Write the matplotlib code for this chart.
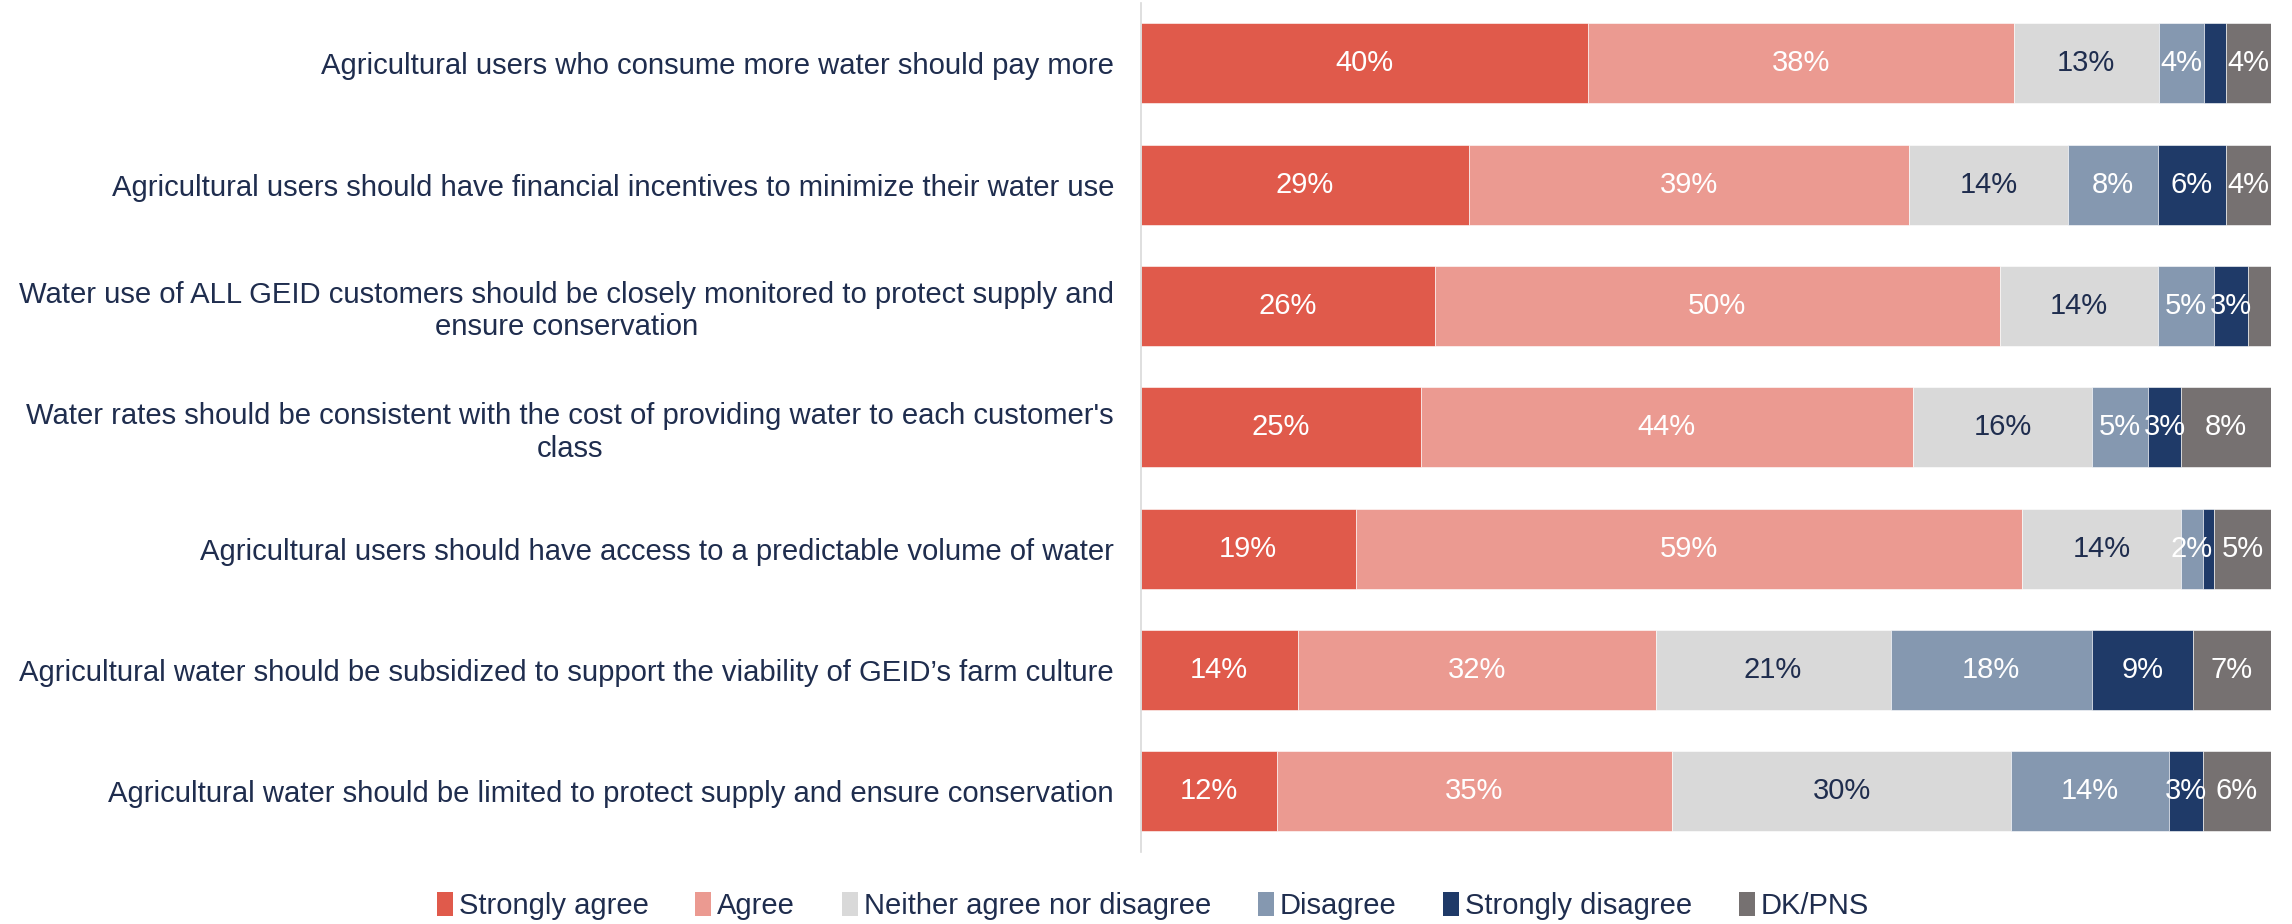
import numpy as np
import matplotlib.pyplot as plt
from matplotlib.patches import Patch

plt.rcParams['font.family'] = ['Liberation Sans', 'DejaVu Sans']

statements = [
    "Agricultural users who consume more water should pay more",
    "Agricultural users should have financial incentives to minimize their water use",
    "Water use of ALL GEID customers should be closely monitored to protect supply and\nensure conservation",
    "Water rates should be consistent with the cost of providing water to each customer's\nclass",
    "Agricultural users should have access to a predictable volume of water",
    "Agricultural water should be subsidized to support the viability of GEID\u2019s farm culture",
    "Agricultural water should be limited to protect supply and ensure conservation",
]
responses = ["Strongly agree", "Agree", "Neither agree nor disagree",
             "Disagree", "Strongly disagree", "DK/PNS"]

strongly_agree = [40, 29, 26, 25, 19, 14, 12]
agree = [38, 39, 50, 44, 59, 32, 35]
neither = [13, 14, 14, 16, 14, 21, 30]
disagree = [4, 8, 5, 5, 2, 18, 14]
strongly_disagree = [2, 6, 3, 3, 1, 9, 3]
dk_pns = [4, 4, 2, 8, 5, 7, 6]

# (row, response) segments too thin to carry a label
unlabeled = [(0, 4), (2, 5), (4, 4)]

colors = ["#E05A4B", "#EB9A91", "#D9D9D9", "#8598B0", "#1F3A68", "#767171"]
navy = "#1F2D4E"
label_colors = ["white", "white", navy, "white", "white", "white"]

data = np.array([strongly_agree, agree, neither, disagree, strongly_disagree, dk_pns], dtype=float)
# 100% stacked: each row scaled to its own total
shares = data / data.sum(axis=0) * 100

fig = plt.figure(figsize=(22.92, 9.24), dpi=100)
ax = fig.add_axes([0.4978, 0.078, 0.4930, 0.919])

y = np.arange(len(statements))
left = np.zeros(len(statements))
for i, name in enumerate(responses):
    bars = ax.barh(y, shares[i], left=left, height=0.66, color=colors[i],
                   edgecolor="white", linewidth=0.4, label=name)
    for r, b in enumerate(bars):
        if (r, i) in unlabeled:
            continue
        ax.text(b.get_x() + b.get_width() / 2, b.get_y() + b.get_height() / 2,
                f"{data[i, r]:.0f}%", ha="center", va="center",
                fontsize=21, color=label_colors[i])
    left += shares[i]

ax.set_xlim(0, 100)
ax.set_ylim(len(statements) - 0.5, -0.5)
ax.set_yticks(y)
ax.set_yticklabels(statements, fontsize=21.1, color=navy)
for t in ax.get_yticklabels():
    t.set_multialignment("center")
ax.tick_params(axis="y", length=0, pad=19.4)
ax.set_xticks([])
for s in ["top", "right", "bottom"]:
    ax.spines[s].set_visible(False)
ax.spines["left"].set_color("#D9D9D9")
ax.spines["left"].set_linewidth(1.2)

handles = [Patch(facecolor=c, edgecolor="none") for c in colors]
fig.legend(handles, responses, loc="lower center", bbox_to_anchor=(0.503, -0.024),
           ncol=6, frameon=False, fontsize=21, labelcolor=navy,
           handlelength=0.55, handleheight=0.9, handletextpad=0.2, columnspacing=1.6)

fig.savefig("out.png", dpi=100)
